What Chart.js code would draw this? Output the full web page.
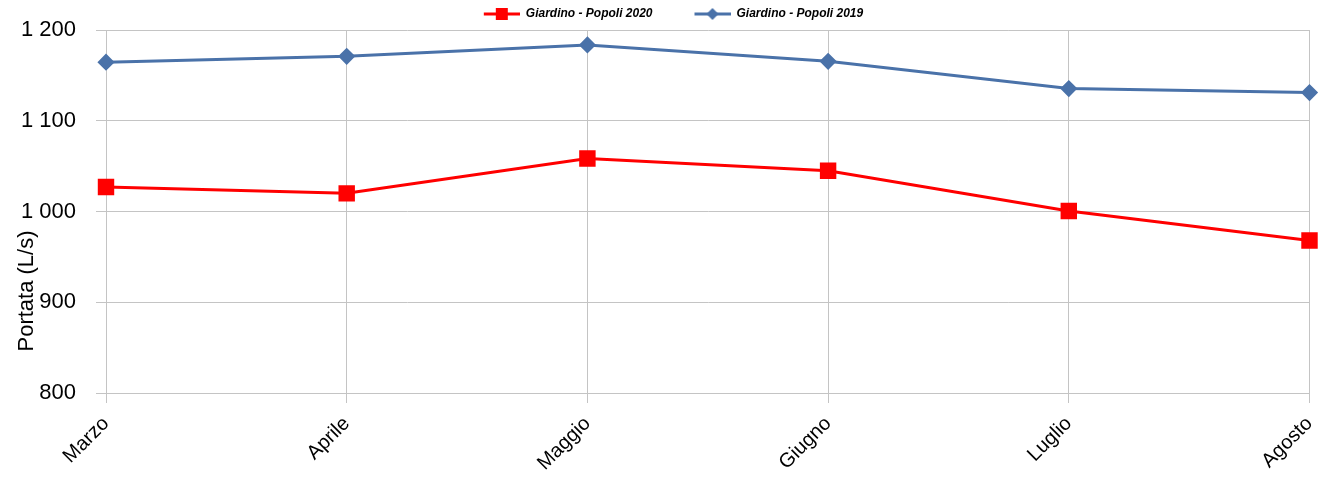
<!DOCTYPE html>
<html>
<head>
<meta charset="utf-8">
<script src="https://cdn.jsdelivr.net/npm/chart.js@4/dist/chart.umd.min.js"></script>
<style>
  html, body { margin: 0; padding: 0; background: #fff; }
  #wrap { width: 1322px; height: 479px; }
</style>
</head>
<body>
<div id="wrap"><canvas id="chart" width="1322" height="479"></canvas></div>
<script>
// mesi
const months = ["Marzo", "Aprile", "Maggio", "Giugno", "Luglio", "Agosto"];
// portata (L/s)
const popoli2020 = [1027, 1020, 1058.5, 1045, 1000.5, 968];
const popoli2019 = [1164.5, 1171, 1183.5, 1165.5, 1135.5, 1131];
const yTicks = [800, 900, 1000, 1100, 1200];

const red = "#ff0000";
const blue = "#4a72a9";

// legend marker: line with a symbol in the middle (left part kept blank as spacing)
function legendIcon(color, shape) {
    const c = document.createElement("canvas");
    c.width = 70; c.height = 14;
    const g = c.getContext("2d");
    const x0 = 34;
    g.strokeStyle = color;
    g.lineWidth = 3;
    g.beginPath(); g.moveTo(x0, 7); g.lineTo(x0 + 36, 7); g.stroke();
    g.fillStyle = color;
    if (shape === "square") {
        g.fillRect(x0 + 12, 1, 12, 12);
    } else {
        g.beginPath();
        g.moveTo(x0 + 18, 1); g.lineTo(x0 + 24, 7); g.lineTo(x0 + 18, 13); g.lineTo(x0 + 12, 7);
        g.closePath(); g.fill();
    }
    return c;
}

function fmt(v) {
    if (v >= 1000) return Math.floor(v / 1000) + " " + String(v % 1000).padStart(3, "0");
    return String(v);
}

// y axis title, placed like the original (lower than centre)
const yTitle = {
    id: "yTitle",
    afterDraw(chart) {
        const ctx = chart.ctx;
        ctx.save();
        ctx.translate(27, 291);
        ctx.rotate(-Math.PI / 2);
        ctx.font = "22px Arial, 'Liberation Sans'";
        ctx.fillStyle = "#000";
        ctx.textAlign = "center";
        ctx.textBaseline = "middle";
        ctx.fillText("Portata (L/s)", 0, 0);
        ctx.restore();
    }
};

const canvas = document.getElementById("chart");
new Chart(canvas, {
    type: "line",
    data: {
        labels: months,
        datasets: [
            {
                label: "Giardino - Popoli 2020",
                data: popoli2020,
                borderColor: red,
                backgroundColor: red,
                borderWidth: 3,
                pointStyle: "rect",
                pointRadius: 9.5,
                pointHoverRadius: 9.5,
                tension: 0
            },
            {
                label: "Giardino - Popoli 2019",
                data: popoli2019,
                borderColor: blue,
                backgroundColor: blue,
                borderWidth: 3,
                pointStyle: "rectRot",
                pointRadius: 6.5,
                pointHoverRadius: 6.5,
                tension: 0
            }
        ]
    },
    options: {
        responsive: false,
        animation: false,
        events: [],
        layout: { padding: { left: 0, right: 9, top: 0, bottom: 0 } },
        plugins: {
            tooltip: { enabled: false },
            legend: {
                position: "top",
                labels: {
                    usePointStyle: true,
                    pointStyleWidth: 70,
                    padding: 8,
                    color: "#000",
                    font: { family: "Arial, 'Liberation Sans'", size: 12, style: "italic", weight: "bold" },
                    generateLabels(chart) {
                        return chart.data.datasets.map((ds, i) => ({
                            text: ds.label,
                            datasetIndex: i,
                            pointStyle: legendIcon(ds.borderColor, i === 0 ? "square" : "diamond"),
                            fillStyle: ds.borderColor,
                            strokeStyle: ds.borderColor,
                            lineWidth: 0,
                            hidden: false
                        }));
                    }
                }
            }
        },
        scales: {
            x: {
                offset: false,
                grid: { color: "#c4c4c4", tickLength: 10, drawTicks: true },
                border: { color: "#c4c4c4" },
                ticks: {
                    color: "#000",
                    maxRotation: 45,
                    minRotation: 45,
                    padding: 9,
                    font: { family: "Arial, 'Liberation Sans'", size: 20 }
                },
                afterFit(scale) {
                    scale.height = 86;
                    scale.paddingLeft = 0;
                    scale.paddingRight = 0;
                }
            },
            y: {
                min: 800,
                max: 1200,
                afterBuildTicks(scale) { scale.ticks = yTicks.map(v => ({ value: v })); },
                grid: { color: "#c4c4c4", tickLength: 10 },
                border: { color: "#c4c4c4" },
                ticks: {
                    color: "#000",
                    padding: 20,
                    font: { family: "Arial, 'Liberation Sans'", size: 22 },
                    callback: v => fmt(v)
                },
                afterFit(scale) {
                    scale.width = 106;
                    scale.paddingTop = 0;
                    scale.paddingBottom = 0;
                }
            }
        }
    },
    plugins: [yTitle]
});
</script>
</body>
</html>
